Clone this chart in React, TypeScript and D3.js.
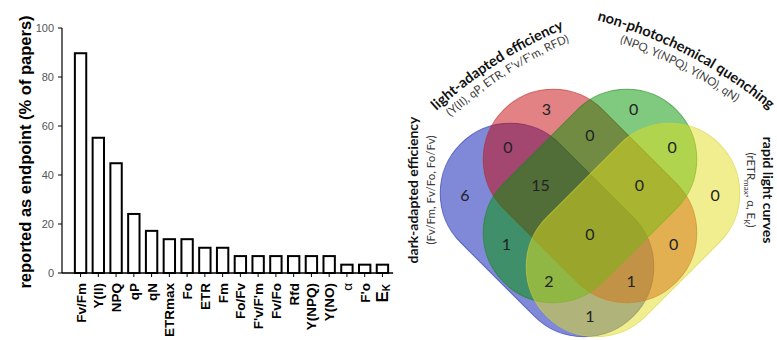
import React, { useMemo } from 'react';
import * as d3 from 'd3';

// ---- Bar chart data: share of papers reporting each fluorescence endpoint ----
const categories = [
  'Fv/Fm', 'Y(II)', 'NPQ', 'qP', 'qN', 'ETRmax', 'Fo', 'ETR', 'Fm', 'Fo/Fv',
  "F'v/F'm", 'Fv/Fo', 'Rfd', 'Y(NPQ)', 'Y(NO)', 'α', "F'o", 'Ek',
];
const percentPapers = [
  89.7, 55.2, 44.8, 24.1, 17.2, 13.8, 13.8, 10.3, 10.3, 6.9,
  6.9, 6.9, 6.9, 6.9, 6.9, 3.4, 3.4, 3.4,
];
const yTicks = [0, 20, 40, 60, 80, 100];
const yLabel = 'reported as endpoint (% of papers)';

// ---- Venn data: endpoint groups and number of papers in each intersection ----
// membership key order: dark-adapted, light-adapted, non-photochemical, rapid light curves
const setTitles = [
  'dark-adapted efficiency',
  'light-adapted efficiency',
  'non-photochemical quenching',
  'rapid light curves',
];
const setSubtitles = [
  '(Fv/Fm, Fv/Fo, Fo/Fv)',
  "(Y(II), qP, ETR, F'v/F'm, RFD)",
  '(NPQ, Y(NPQ), Y(NO), qN)',
  '(rETRmax, α, EK)',
];
const regionKeys = [
  '1000', '0100', '0010', '0001',
  '1100', '0110', '0011', '1010', '0101', '1001',
  '1110', '0111', '1011', '1101', '1111',
];
const regionCounts = [6, 3, 0, 0, 0, 0, 0, 1, 0, 1, 15, 0, 2, 1, 0];

type Capsule = { cx: number; cy: number; angle: number; half: number; r: number; fill: string; stroke: string };

const W = 777;
const H = 340;

function signedDist(c: Capsule, x: number, y: number) {
  const a = (c.angle * Math.PI) / 180;
  const ux = Math.cos(a);
  const uy = Math.sin(a);
  const dx = x - c.cx;
  const dy = y - c.cy;
  const t = Math.max(-c.half, Math.min(c.half, dx * ux + dy * uy));
  return Math.hypot(dx - t * ux, dy - t * uy) - c.r;
}

function arcPath(cx: number, cy: number, R: number, midDeg: number, spanDeg: number) {
  const a0 = ((midDeg - spanDeg) * Math.PI) / 180;
  const a1 = ((midDeg + spanDeg) * Math.PI) / 180;
  const x0 = cx + R * Math.cos(a0);
  const y0 = cy + R * Math.sin(a0);
  const x1 = cx + R * Math.cos(a1);
  const y1 = cy + R * Math.sin(a1);
  return `M${x0},${y0} A${R},${R} 0 0 1 ${x1},${y1}`;
}

const barFont = 'Liberation Sans, Arial, sans-serif';
const vennFont = 'Lato, Open Sans, sans-serif';
const subColor = '#3d3d3d';

export default function App() {
  // bar chart scales
  const x = d3.scaleBand<string>().domain(categories).range([66, 397]).paddingInner(0.36).paddingOuter(0.5);
  const y = d3.scaleLinear().domain([0, 100]).range([273, 28]);
  const axisX = 62;
  const axisEnd = (x(categories[categories.length - 1]) ?? 0) + x.bandwidth() + 5;

  // Venn shapes (drawn in this order, later ones on top)
  const shapes: Capsule[] = [
    { cx: 547, cy: 230, angle: 45, half: 52, r: 70, fill: 'rgb(0,20,175)', stroke: 'rgb(30,40,170)' },
    { cx: 590, cy: 196, angle: 45, half: 52, r: 70, fill: 'rgb(200,5,10)', stroke: 'rgb(180,40,40)' },
    { cx: 590, cy: 196, angle: -45, half: 52, r: 70, fill: 'rgb(0,150,0)', stroke: 'rgb(30,130,30)' },
    { cx: 633, cy: 230, angle: -45, half: 52, r: 70, fill: 'rgb(225,222,30)', stroke: 'rgb(215,210,60)' },
  ];

  // label point of each region: centre of the sample points that lie farthest from every outline
  const regionLabels = useMemo(() => {
    const pts: Record<string, { x: number; y: number; d: number }[]> = {};
    for (let gx = 420; gx <= 760; gx += 1) {
      for (let gy = 60; gy <= 340; gy += 1) {
        const ds = shapes.map((s) => signedDist(s, gx, gy));
        const key = ds.map((d) => (d < 0 ? '1' : '0')).join('');
        if (key === '0000') continue;
        const clear = Math.min(...ds.map((d) => Math.abs(d)));
        (pts[key] = pts[key] || []).push({ x: gx, y: gy, d: clear });
      }
    }
    return regionKeys.map((k, i) => {
      const list = pts[k] || [];
      const maxD = d3.max(list, (p) => p.d) ?? 0;
      const top = list.filter((p) => p.d >= maxD - 2.5);
      return {
        key: k,
        count: regionCounts[i],
        x: d3.mean(top, (p) => p.x) ?? 0,
        y: d3.mean(top, (p) => p.y) ?? 0,
      };
    });
  }, []);

  const lightC = { x: 740, y: 443 };
  const npqC = { x: 481, y: 455 };

  return (
    <svg
      width={W}
      height={H}
      viewBox={`0 0 ${W} ${H}`}
      style={{ position: 'fixed', left: 0, top: 0, background: '#fff' }}
    >
      <defs>
        <path id="arc-light-t" d={arcPath(lightC.x, lightC.y, 450, -122.7, 40)} />
        <path id="arc-light-s" d={arcPath(lightC.x, lightC.y, 436, -122.3, 40)} />
        <path id="arc-npq-t" d={arcPath(npqC.x, npqC.y, 450, -62.6, 40)} />
        <path id="arc-npq-s" d={arcPath(npqC.x, npqC.y, 435, -62.8, 40)} />
      </defs>

      {/* ---------- bar chart ---------- */}
      <g fontFamily={barFont}>
        {categories.map((c, i) => (
          <rect
            key={c}
            x={x(c)}
            y={y(percentPapers[i])}
            width={x.bandwidth()}
            height={y(0) - y(percentPapers[i])}
            fill="#fff"
            stroke="#000"
            strokeWidth={2}
          />
        ))}
        <line x1={axisX} x2={axisX} y1={y(100)} y2={y(0)} stroke="#000" strokeWidth={1.2} />
        <line x1={axisX} x2={axisEnd} y1={y(0)} y2={y(0)} stroke="#000" strokeWidth={1.4} />
        {yTicks.map((t) => (
          <g key={t}>
            <line x1={axisX - 4} x2={axisX} y1={y(t)} y2={y(t)} stroke="#000" strokeWidth={1} />
            <text x={axisX - 8} y={y(t)} dy="0.35em" textAnchor="end" fontSize={11} fill="#555">
              {t}
            </text>
          </g>
        ))}
        {categories.map((c) => {
          const cx = (x(c) ?? 0) + x.bandwidth() / 2;
          return (
            <g key={'t' + c}>
              <line x1={cx} x2={cx} y1={y(0)} y2={y(0) + 4} stroke="#000" strokeWidth={1} />
              {c === 'Ek' ? (
                <text transform={`translate(${cx + 6},${y(0) + 11}) rotate(-90)`} textAnchor="end" fontWeight="bold" fontSize={17} fill="#000">
                  E<tspan fontSize={10} dy={2}>K</tspan>
                </text>
              ) : (
                <text
                  transform={`translate(${cx + 5},${y(0) + 10}) rotate(-90)`}
                  textAnchor="end"
                  fontWeight={c === 'α' ? 'normal' : 'bold'}
                  fontSize={13.5}
                  fill="#000"
                >
                  {c}
                </text>
              )}
            </g>
          );
        })}
        <text
          transform={`translate(31,152) rotate(-90)`}
          textAnchor="middle"
          fontWeight="bold"
          fontSize={16.5}
          fill="#000"
        >
          {yLabel}
        </text>
      </g>

      {/* ---------- Venn diagram ---------- */}
      <g>
        {shapes.map((s, i) => (
          <rect
            key={i}
            x={-s.half - s.r}
            y={-s.r}
            width={2 * (s.half + s.r)}
            height={2 * s.r}
            rx={s.r}
            ry={s.r}
            transform={`translate(${s.cx},${s.cy}) rotate(${s.angle})`}
            fill={s.fill}
            fillOpacity={0.5}
            stroke={s.stroke}
            strokeOpacity={0.6}
            strokeWidth={1}
          />
        ))}
        {regionLabels.map((r) => (
          <text
            key={r.key}
            x={r.x}
            y={r.y}
            dy="0.35em"
            textAnchor="middle"
            fontFamily={vennFont}
            fontSize={16}
            fill="#222"
          >
            {r.count}
          </text>
        ))}
      </g>

      {/* set names */}
      <g fontFamily={vennFont}>
        <text transform="translate(418,190) rotate(-90)" textAnchor="middle" fontWeight="bold" fontSize={14} fill="#111">
          {setTitles[0]}
        </text>
        <text transform="translate(435,190) rotate(-90)" textAnchor="middle" fontSize={11.5} fill={subColor}>
          {setSubtitles[0]}
        </text>

        <text fontWeight="bold" fontSize={14.5} fill="#111">
          <textPath href="#arc-light-t" startOffset="50%" textAnchor="middle">
            {setTitles[1]}
          </textPath>
        </text>
        <text fontSize={11.5} fill={subColor}>
          <textPath href="#arc-light-s" startOffset="50%" textAnchor="middle">
            {setSubtitles[1]}
          </textPath>
        </text>

        <text fontWeight="bold" fontSize={14.5} fill="#111">
          <textPath href="#arc-npq-t" startOffset="50%" textAnchor="middle">
            {setTitles[2]}
          </textPath>
        </text>
        <text fontSize={11.5} fill={subColor}>
          <textPath href="#arc-npq-s" startOffset="50%" textAnchor="middle">
            {setSubtitles[2]}
          </textPath>
        </text>

        <text transform="translate(763,190) rotate(90)" textAnchor="middle" fontWeight="bold" fontSize={14} fill="#111">
          {setTitles[3]}
        </text>
        <text transform="translate(747,190) rotate(90)" textAnchor="middle" fontSize={11.5} fill={subColor}>
          (rETR<tspan fontSize={8} dy={3}>max</tspan>
          <tspan dy={-3}>, α, E</tspan>
          <tspan fontSize={8} dy={3}>K</tspan>
          <tspan dy={-3}>)</tspan>
        </text>
      </g>
    </svg>
  );
}
